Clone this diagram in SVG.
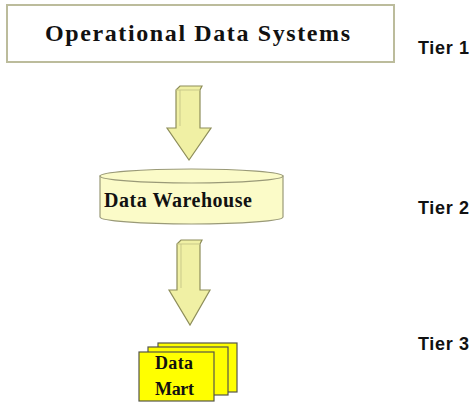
<svg xmlns="http://www.w3.org/2000/svg" width="474" height="402" viewBox="0 0 474 402">
  <style>
    .box { fill: #ffffff; stroke: #bcbc9c; stroke-width: 2; }
    .serif { font-family: "Liberation Serif", "Times New Roman", serif; font-weight: bold; fill: #111; }
    .tier { font-family: "Liberation Sans", Arial, sans-serif; font-weight: bold; font-size: 18px; fill: #111; }
    .arrow { fill: #f0f0a4; stroke: #8e8e5a; stroke-width: 1.2; stroke-linejoin: miter; }
    .arrow-hl { fill: none; stroke: #c9c98a; stroke-width: 1; }
    .cyl { fill: #fbfbc8; stroke: #9a9a78; stroke-width: 1.2; }
    .page { fill: #ffff00; stroke: #555548; stroke-width: 1.2; }
  </style>

  <!-- Tier 1 -->
  <g id="operational-data-systems">
    <rect class="box" x="7" y="5" width="387" height="57"/>
    <text class="serif" x="45" y="41" font-size="24" textLength="305" lengthAdjust="spacing">Operational Data Systems</text>
  </g>

  <!-- Tier 2 -->
  <g id="data-warehouse">
    <path class="cyl" d="M100,176 L100,217 A91.5,7 0 0 0 283,217 L283,176 Z"/>
    <ellipse class="cyl" cx="191.5" cy="176" rx="91.5" ry="7"/>
    <text class="serif" x="104" y="207" font-size="20" textLength="148" lengthAdjust="spacing">Data Warehouse</text>
  </g>

  <!-- Tier 3 -->
  <g id="data-mart">
    <rect class="page" x="158" y="343" width="79" height="49"/>
    <rect class="page" x="148" y="347" width="80" height="48"/>
    <rect class="page" x="139" y="352" width="75" height="49"/>
    <text class="serif" x="155" y="369" font-size="18" textLength="38" lengthAdjust="spacing">Data</text>
    <text class="serif" x="155" y="395" font-size="18" textLength="39" lengthAdjust="spacing">Mart</text>
  </g>

  <!-- tier labels -->
  <g id="tier-labels">
    <text class="tier" x="418" y="54" textLength="51" lengthAdjust="spacing">Tier 1</text>
    <text class="tier" x="418" y="214" textLength="51" lengthAdjust="spacing">Tier 2</text>
    <text class="tier" x="418" y="350" textLength="51" lengthAdjust="spacing">Tier 3</text>
  </g>

  <!-- connectors: block arrows between tiers -->
  <g id="connectors">
    <g id="arrow-1">
      <polygon class="arrow" points="176,90 180,86 202,86 200,90 200,128 211,128 189,160 167,128 176,128"/>
      <path class="arrow-hl" d="M180,90 L180,126 M176,90 L200,90"/>
    </g>
    <g id="arrow-2">
      <polygon class="arrow" points="177,244 181,240 202,240 200,244 200,290 210,290 190,325 169,290 177,290"/>
      <path class="arrow-hl" d="M181,244 L181,288 M177,244 L200,244"/>
    </g>
  </g>
</svg>
